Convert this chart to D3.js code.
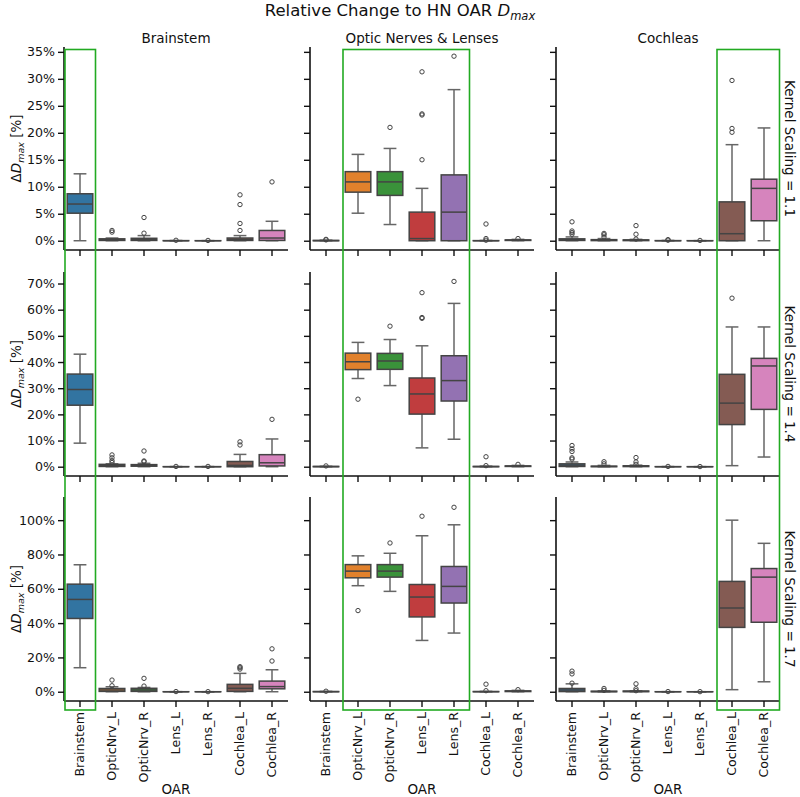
<!DOCTYPE html>
<html><head><meta charset="utf-8">
<script src="https://cdn.jsdelivr.net/npm/d3@7"></script>
<style>body{margin:0;background:#fff} text{font-family:"DejaVu Sans",sans-serif;fill:#111}</style>
</head><body><svg id="c" width="800" height="797"></svg>
<script>
// ---------------- DATA ----------------
const oars = ["Brainstem","OpticNrv_L","OpticNrv_R","Lens_L","Lens_R","Cochlea_L","Cochlea_R"];
const colTitles = ["Brainstem","Optic Nerves & Lenses","Cochleas"];
const rowLabels = ["Kernel Scaling = 1.1","Kernel Scaling = 1.4","Kernel Scaling = 1.7"];
const yTicks_11 = [0,5,10,15,20,25,30,35];
const yTicks_14 = [0,10,20,30,40,50,60,70];
const yTicks_17 = [0,20,40,60,80,100];
const yDomain_11 = [-1.72, 35.9];
const yDomain_14 = [-3.55, 74.4];
const yDomain_17 = [-5.4, 113.5];
const boxColors = ["#3274a1","#e1812c","#3a923a","#c03d3e","#9372b2","#845b53","#d684bd"];
// highlighted OAR index range per column
const highlight = [[0,0],[1,4],[5,6]];

// box stats per OAR: [whiskerLow, q1, median, q3, whiskerHigh]
const box_11_brainstem = [[0,5.1,6.8,8.7,12.4],[0,0.05,0.2,0.35,0.5],[0,0.05,0.2,0.45,0.95],[0,0,0,0.02,0.04],[0,0,0,0.01,0.02],[0,0.05,0.2,0.5,0.95],[0,0.05,0.5,1.9,3.6]];
const out_11_brainstem = [[],[1.6,1.9],[1.4,4.3],[0.08],[0.05],[1.9,3.2,6.7,8.5],[10.9]];
const box_11_optic = [[0,0,0.02,0.05,0.1],[5.1,9.0,10.9,12.8,16.0],[3.0,8.4,10.9,12.8,17.1],[0,0,0.4,5.3,9.7],[0,0,5.3,12.2,28.0],[0,0,0,0.02,0.05],[0,0.05,0.1,0.15,0.25]];
const out_11_optic = [[0.15,0.25],[],[21.0],[15.0,23.3,23.5,31.3],[34.2],[0.1,0.4,3.1],[0.4]];
const box_11_cochlea = [[0,0.05,0.15,0.35,0.7],[0,0.02,0.1,0.2,0.4],[0,0.02,0.1,0.15,0.25],[0,0,0,0.02,0.05],[0,0,0,0.01,0.02],[0,0,1.3,7.2,17.8],[0,3.7,9.7,11.4,20.9]];
const out_11_cochlea = [[1.2,1.5,1.8,3.5],[0.7,1.1,1.35],[0.3,1.2,2.8],[0.1,0.2],[0.05],[20.1,20.8,29.7],[]];

const box_14_brainstem = [[9.0,23.5,29.5,35.4,43.0],[0,0.1,0.5,0.9,1.1],[0,0.2,0.5,0.8,1.3],[0,0,0,0.02,0.05],[0,0,0,0.02,0.05],[0,0,0.5,2.0,4.7],[0,0.3,1.5,4.6,10.6]];
const out_14_brainstem = [[],[1.6,2.3,3.4,4.5],[1.9,2.2,6.0],[0.1],[0.1],[8.3,9.5],[18.1]];
const box_14_optic = [[0,0,0.05,0.1,0.15],[33.7,37.1,40.1,43.4,47.5],[31.0,37.2,40.4,43.3,48.6],[7.2,20.1,27.8,33.9,46.2],[10.5,25.1,32.9,42.4,62.4],[0,0,0.05,0.1,0.2],[0,0.1,0.2,0.3,0.5]];
const out_14_optic = [[0.3],[25.8],[53.7],[56.7,57.0,66.5],[70.8],[0.4,3.8],[0.9]];
const box_14_cochlea = [[0,0.1,0.6,1.1,1.8],[0,0.02,0.1,0.2,0.5],[0,0.05,0.2,0.35,0.6],[0,0,0,0.02,0.05],[0,0,0,0.01,0.02],[0.4,16.1,24.3,35.3,53.4],[3.7,21.9,38.5,41.4,53.4]];
const out_14_cochlea = [[2.9,3.4,5.8,6.8,8.1],[1.1,1.9],[0.9,1.8,3.5],[0.1],[0.05],[64.4],[]];

const box_17_brainstem = [[14.0,42.7,53.8,62.7,74.0],[0,0.2,1.0,1.9,2.9],[0,0.2,1.0,2.0,2.5],[0,0,0,0.02,0.05],[0,0,0,0.01,0.02],[0,0.2,2.0,4.3,10.7],[0,1.7,3.0,6.2,12.8]];
const out_17_brainstem = [[],[3.5,6.8],[3.3,7.8],[0.1],[0.05],[13.2,14.0,14.6],[17.9,25.0]];
const box_17_optic = [[0,0,0.05,0.1,0.2],[61.8,66.4,70.3,74.1,79.2],[58.5,66.8,70.3,74.1,80.7],[29.9,43.6,55.2,62.5,90.9],[34.2,51.7,61.4,73.0,97.3],[0,0,0.05,0.1,0.2],[0,0.1,0.3,0.5,0.8]];
const out_17_optic = [[0.3],[47.3],[86.7],[102.3],[107.5],[0.6,4.4],[1.2]];
const box_17_cochlea = [[0,0.1,1.0,1.9,4.6],[0,0.02,0.1,0.3,0.5],[0,0.05,0.2,0.4,0.5],[0,0,0,0.02,0.05],[0,0,0,0.01,0.02],[1.2,37.5,48.8,64.3,100.0],[5.8,40.5,66.8,71.8,86.5]];
const out_17_cochlea = [[5.0,10.4,12.0],[0.8,1.9],[0.6,1.7,4.6],[0.1],[0.05],[],[]];

// ---------------- LAYOUT ----------------
const rows = [
  {ticks:yTicks_11, domain:yDomain_11, boxes:[box_11_brainstem,box_11_optic,box_11_cochlea], outs:[out_11_brainstem,out_11_optic,out_11_cochlea]},
  {ticks:yTicks_14, domain:yDomain_14, boxes:[box_14_brainstem,box_14_optic,box_14_cochlea], outs:[out_14_brainstem,out_14_optic,out_14_cochlea]},
  {ticks:yTicks_17, domain:yDomain_17, boxes:[box_17_brainstem,box_17_optic,box_17_cochlea], outs:[out_17_brainstem,out_17_optic,out_17_cochlea]}
];
const colX = [64, 310, 556], panelW = 224;
const rowY = [[47,250],[272,476],[497,701]];
const lineCol = "#444", whiskCol = "#666";

const svg = d3.select("#c");

// main title
const mt = svg.append("text").attr("x",400).attr("y",16).attr("text-anchor","middle").style("font-size","16.5px");
mt.append("tspan").text("Relative Change to HN OAR ");
mt.append("tspan").attr("font-style","italic").text("D");
mt.append("tspan").attr("font-style","italic").attr("dy",4).style("font-size","11.5px").text("max");

rows.forEach((row, r) => {
  const y = d3.scaleLinear().domain(row.domain).range([rowY[r][1], rowY[r][0]]);
  colX.forEach((x0, c) => {
    const x = d3.scaleBand().domain(oars).range([x0, x0 + panelW]);
    const bw = x.bandwidth() * 0.8;
    const g = svg.append("g");
    const stats = row.boxes[c], outs = row.outs[c];
    oars.forEach((o, i) => {
      const s = stats[i];
      const cx = x(o) + x.bandwidth() / 2;
      // whiskers
      g.append("line").attr("x1",cx).attr("x2",cx).attr("y1",y(s[3])).attr("y2",y(s[4])).attr("stroke",whiskCol).attr("stroke-width",1.5);
      g.append("line").attr("x1",cx).attr("x2",cx).attr("y1",y(s[1])).attr("y2",y(s[0])).attr("stroke",whiskCol).attr("stroke-width",1.5);
      [s[0], s[4]].forEach(v => g.append("line").attr("x1",cx - bw/4).attr("x2",cx + bw/4).attr("y1",y(v)).attr("y2",y(v)).attr("stroke",whiskCol).attr("stroke-width",1.5));
      // box
      g.append("rect").attr("x",cx - bw/2).attr("width",bw).attr("y",y(s[3])).attr("height",Math.max(0.01, y(s[1]) - y(s[3])))
        .attr("fill",boxColors[i]).attr("stroke",lineCol).attr("stroke-width",1.5);
      // median
      g.append("line").attr("x1",cx - bw/2).attr("x2",cx + bw/2).attr("y1",y(s[2])).attr("y2",y(s[2])).attr("stroke",lineCol).attr("stroke-width",1.5);
      // outliers
      outs[i].forEach(v => g.append("circle").attr("cx",cx).attr("cy",y(v)).attr("r",2.2).attr("fill","none").attr("stroke",lineCol).attr("stroke-width",1));
    });
    // y axis
    const ya = svg.append("g").attr("transform",`translate(${x0},0)`)
      .call(d3.axisLeft(y).tickValues(row.ticks).tickSize(6).tickPadding(3).tickFormat(c === 0 ? (d => d + "%") : ""));
    ya.select(".domain").attr("d", `M0,${rowY[r][0]}V${rowY[r][1]}`);
    // x axis
    const xa = svg.append("g").attr("transform",`translate(0,${rowY[r][1]})`)
      .call(d3.axisBottom(x).tickSize(6).tickPadding(3).tickFormat(""));
    xa.select(".domain").attr("d", `M${x0},0H${x0 + panelW}`);
    [ya, xa].forEach(a => {
      a.select(".domain").attr("stroke","#111").attr("stroke-width",1.6);
      a.selectAll(".tick line").attr("stroke","#111").attr("stroke-width",1.4);
      a.selectAll(".tick text").style("font-size","12.6px").style("font-family","DejaVu Sans").attr("fill","#111");
    });
    if (r === 2) {
      // rotated category labels
      svg.append("g").selectAll("text").data(oars).join("text")
        .attr("transform", d => `translate(${x(d) + x.bandwidth()/2},${rowY[r][1] + 11}) rotate(-90)`)
        .attr("text-anchor","end").attr("dy","0.35em").style("font-size","12.6px").text(d => d);
      svg.append("text").attr("x", x0 + panelW/2).attr("y", 794).attr("text-anchor","middle").style("font-size","13.5px").text("OAR");
    }
    if (r === 0) {
      svg.append("text").attr("x", x0 + panelW/2).attr("y", 43).attr("text-anchor","middle").style("font-size","13.5px").text(colTitles[c]);
    }
    if (c === 0) {
      const yl = svg.append("text").attr("transform",`translate(21,${(rowY[r][0]+rowY[r][1])/2}) rotate(-90)`).attr("text-anchor","middle").style("font-size","13.5px");
      yl.append("tspan").text("Δ");
      yl.append("tspan").attr("font-style","italic").text("D");
      yl.append("tspan").attr("font-style","italic").attr("dy",3).style("font-size","9.5px").text("max");
      yl.append("tspan").attr("dy",-3).text(" [%]");
    }
    if (c === 2) {
      svg.append("text").attr("transform",`translate(790,${(rowY[r][0]+rowY[r][1])/2}) rotate(90)`).attr("text-anchor","middle").attr("dy","0.35em").style("font-size","13.5px").text(rowLabels[r]);
    }
  });
});

// highlight rectangles spanning all rows
colX.forEach((x0, c) => {
  const x = d3.scaleBand().domain(oars).range([x0, x0 + panelW]);
  const a = x(oars[highlight[c][0]]), b = x(oars[highlight[c][1]]) + x.bandwidth();
  svg.append("rect").attr("x", a + 1).attr("y", 49.5).attr("width", b - a - 1.5).attr("height", 710 - 49.5)
    .attr("fill","none").attr("stroke","#22aa22").attr("stroke-width",1.6);
});
</script></body></html>
